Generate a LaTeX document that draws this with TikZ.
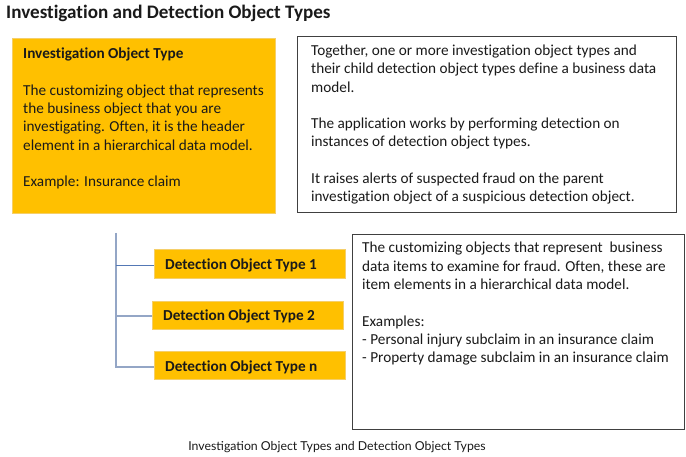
\documentclass[tikz,border=0pt]{standalone}
\usepackage{fontspec}
\setmainfont{Carlito}[Ligatures=NoCommon]
\newfontfamily\capfont{Lato}
\definecolor{gold}{HTML}{FFC000}
\definecolor{goldedge}{HTML}{F5CF6A}
\definecolor{linkc}{HTML}{94A6C6}
\definecolor{linkd}{HTML}{5378B5}
\definecolor{ink}{HTML}{1A1A1A}
\begin{document}
\begin{tikzpicture}[x=1pt,y=-1pt,
  gbox/.style={draw=goldedge, fill=gold, line width=0.6pt, inner sep=0pt, anchor=north west},
  wbox/.style={draw=black!75, fill=white, line width=1pt, inner sep=0pt, anchor=north west},
  body/.style={font=\fontsize{15.25}{18.3}\selectfont, align=left, anchor=base west, inner sep=0pt, text=ink},
  dtext/.style={font=\fontsize{15.25}{18.3}\selectfont\bfseries, anchor=base west, inner sep=0pt, text=ink},
  link/.style={draw=linkc, line width=1.4pt},
  linkb/.style={draw=linkd, line width=1pt}]
\useasboundingbox[fill=white] (0,0) rectangle (686,457);

% title
\node[font=\fontsize{19.1}{22}\selectfont\bfseries, anchor=base west, inner sep=0pt, text=ink] (title) at (6,18.3) {Investigation and Detection Object Types};

% investigation object type box (base anchor = last line baseline)
\node[gbox, minimum width=263pt, minimum height=175pt] (iot) at (12,38) {};
\node[body] (iottext) at (23,186.9) {\textbf{Investigation Object Type}\\[18.3pt]
The customizing object that represents\\
the business object that you are\\
investigating. Often, it is the header\\
element in a hierarchical data model.\\[18.3pt]
Example: Insurance claim};

% top right explanation box
\node[wbox, minimum width=379pt, minimum height=176pt] (expl) at (297,36) {};
\node[body] (expltext) at (311,201.9) {Together, one or more investigation object types and\\
their child detection object types define a business data\\
model.\\[18.3pt]
The application works by performing detection on\\
instances of detection object types.\\[18.3pt]
It raises alerts of suspected fraud on the parent\\
investigation object of a suspicious detection object.};

% detection object type boxes
\node[gbox, minimum width=191pt, minimum height=29pt] (det1) at (154,249) {};
\node[dtext] (det1t) at (165,269.5) {Detection Object Type 1};
\node[gbox, minimum width=191pt, minimum height=28pt] (det2) at (152,301) {};
\node[dtext] (det2t) at (163,320.5) {Detection Object Type 2};
\node[gbox, minimum width=191pt, minimum height=28pt] (det3) at (154,351) {};
\node[dtext] (det3t) at (165,371) {Detection Object Type n};

% connectors
\coordinate (treetop) at (116,233);
\draw[link] (treetop) -- (treetop |- 0,367) -- (det3.west |- 0,367);
\draw[link] (treetop |- 0,316) -- (det2.west |- 0,316);
\draw[linkb] (treetop |- 0,266) -- (det1.west |- 0,266);

% lower right description box
\node[wbox, minimum width=332pt, minimum height=195pt] (desc) at (352,234) {};
\node[body] (desctext) at (362,362.6) {The customizing objects that represent\ \ business\\
data items to examine for fraud. Often, these are\\
item elements in a hierarchical data model.\\[18.3pt]
Examples:\\
- Personal injury subclaim in an insurance claim\\
- Property damage subclaim in an insurance claim};

% caption
\node[font=\capfont\fontsize{12.3}{14}\selectfont, anchor=base, inner sep=0pt, text=ink] (caption) at (337,450.5) {Investigation Object Types and Detection Object Types};
\end{tikzpicture}
\end{document}
